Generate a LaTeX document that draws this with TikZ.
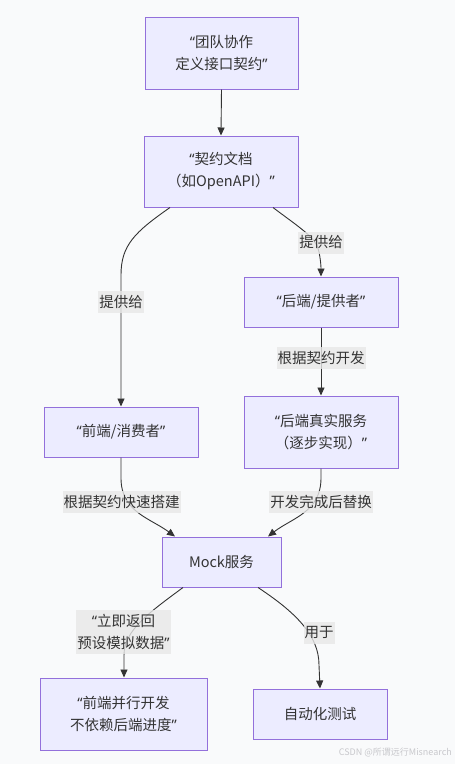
\documentclass[tikz,border=0pt]{standalone}
\usepackage{fontspec}
\setmainfont{Noto Sans CJK SC}
\newfontfamily\latq{Noto Sans}
\newcommand{\myLq}{{\latq “}}
\newcommand{\myRq}{{\latq ”}}
\usetikzlibrary{arrows.meta}
\definecolor{bgc}{RGB}{249,250,251}
\definecolor{boxfill}{HTML}{ECECFF}
\definecolor{boxline}{HTML}{9370DB}
\definecolor{edgec}{HTML}{333333}
\definecolor{lblc}{HTML}{E8E8E8}
\definecolor{txtc}{HTML}{333333}
\definecolor{wmc}{RGB}{200,200,204}
\begin{document}
\begin{tikzpicture}[x=1pt,y=-1pt,
  box/.style={draw=boxline, fill=boxfill, line width=1pt, align=center, inner sep=0pt,
    text=txtc, font=\fontsize{14.5}{22}\selectfont},
  lbl/.style={fill=lblc, fill opacity=0.8, text opacity=1, text=txtc, align=center,
    inner xsep=1pt, inner ysep=0pt, minimum height=22pt, font=\fontsize{14.5}{22}\selectfont},
  arr/.style={draw=edgec, line width=0.9pt, -{Triangle[length=8pt,width=7pt]}}]
\useasboundingbox[fill=bgc] (0,0) rectangle (455,764);
% nodes
\node[box, minimum width=153pt, minimum height=72pt] (b1) at (221.5,53) {\myLq 团队协作\\定义接口契约\myRq};
\node[box, minimum width=154pt, minimum height=71pt] (b2) at (221,171.5) {\myLq 契约文档\\（如OpenAPI）\myRq};
\node[box, minimum width=154pt, minimum height=50pt] (be) at (321,302) {\myLq 后端/提供者\myRq};
\node[box, minimum width=154pt, minimum height=50pt] (fe) at (121,432) {\myLq 前端/消费者\myRq};
\node[box, minimum width=154pt, minimum height=72pt] (real) at (321,432) {\myLq 后端真实服务\\（逐步实现）\myRq};
\node[box, minimum width=119pt, minimum height=50pt] (mock) at (221.5,562) {Mock服务};
\node[box, minimum width=167pt, minimum height=72pt] (par) at (123.5,714) {\myLq 前端并行开发\\不依赖后端进度\myRq};
\node[box, minimum width=134pt, minimum height=50pt] (auto) at (320,714) {自动化测试};
% edges
\draw[arr] (b1.south) -- (b2.north);
\draw[arr] ([xshift=-51pt]b2.south) .. controls (135,232) and (121,245) .. (121,275) -- (fe.north);
\draw[arr] ([xshift=52pt]b2.south) .. controls (300,228) and (317,238) .. (319,252) .. controls (321,262) and (321,268) .. (be.north);
\draw[arr] (be.south) -- (real.north);
\draw[arr] (fe.south) -- (121,478) .. controls (121,512) and (150,518) .. ([xshift=-46.5pt]mock.north);
\draw[arr] (real.south) -- (321,478) .. controls (321,512) and (292,518) .. ([xshift=46.5pt]mock.north);
\draw[arr] ([xshift=-38.5pt]mock.south) .. controls (150,612) and (124,630) .. (124,655) -- ([xshift=0.5pt]par.north);
\draw[arr] ([xshift=36.5pt]mock.south) .. controls (295,612) and (319,635) .. (319,665) -- (auto.north);
% labels
\node[lbl] (l1) at (121,302) {提供给};
\node[lbl] (l2) at (321,242.5) {提供给};
\node[lbl] (l3) at (321,358) {根据契约开发};
\node[lbl] (l4) at (121.5,502) {根据契约快速搭建};
\node[lbl] (l5) at (321,502) {开发完成后替换};
\node[lbl, minimum height=44pt] (l6) at (123.5,632) {\myLq 立即返回\\预设模拟数据\myRq};
\node[lbl] (l7) at (319,632.5) {用于};
% watermark
\node[text=wmc, font=\fontsize{9}{10}\selectfont, anchor=east, inner sep=0pt] (wm) at (452,752) {CSDN @所谓远行Misnearch};
\end{tikzpicture}
\end{document}
